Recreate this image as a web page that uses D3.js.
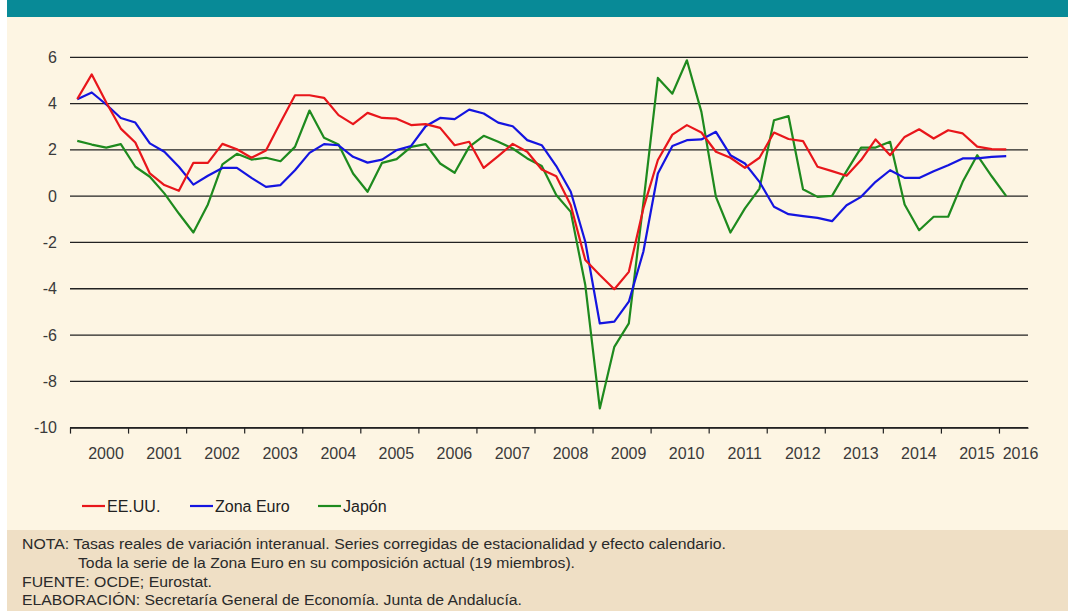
<!DOCTYPE html>
<html><head><meta charset="utf-8">
<script src="https://cdn.jsdelivr.net/npm/d3@7"></script>
<style>
html,body{margin:0;padding:0;background:#fff;}
svg{display:block;}
text{font-family:"Liberation Sans",Arial,sans-serif;}
</style></head><body>
<svg id="chart" width="1068" height="611"></svg>
<script>
// ---------- data ----------
const years = ["2000","2001","2002","2003","2004","2005","2006","2007","2008","2009","2010","2011","2012","2013","2014","2015","2016"];
const quarters = ["T1","T2","T3","T4"];
const eeuu = [
  4.2, 5.26, 4.05, 2.92,
  2.32, 0.98, 0.48, 0.23,
  1.44, 1.44, 2.26, 2.03,
  1.66, 1.97, 3.18, 4.36,
  4.36, 4.25, 3.5, 3.11,
  3.6, 3.38, 3.35, 3.07,
  3.11, 2.95, 2.2, 2.35,
  1.22, 1.73, 2.26, 1.92,
  1.15, 0.86, -0.39, -2.76,
  -3.41, -4.02, -3.27, -0.53,
  1.56, 2.66, 3.07, 2.75,
  1.92, 1.66, 1.22, 1.66,
  2.75, 2.47, 2.38, 1.27,
  1.08, 0.88, 1.56, 2.45,
  1.77, 2.56, 2.89, 2.49,
  2.85, 2.71, 2.14, 2.03,
  2.02
];
const zonaEuro = [
  4.19, 4.48, 3.96, 3.38,
  3.18, 2.28, 1.92, 1.27,
  0.5, 0.88, 1.22, 1.22,
  0.79, 0.4, 0.48, 1.12,
  1.87, 2.25, 2.2, 1.7,
  1.45, 1.58, 1.99, 2.17,
  3.02, 3.38, 3.33, 3.74,
  3.57, 3.18, 3.02, 2.42,
  2.2, 1.3, 0.19, -1.97,
  -5.5, -5.42, -4.56, -2.4,
  0.98, 2.17, 2.42, 2.45,
  2.78, 1.77, 1.41, 0.62,
  -0.46, -0.78, -0.86, -0.94,
  -1.08, -0.39, -0.03, 0.62,
  1.12, 0.79, 0.79, 1.08,
  1.34, 1.63, 1.63, 1.7,
  1.73
];
const japon = [
  2.39, 2.23, 2.1, 2.25,
  1.27, 0.84, 0.12, -0.75,
  -1.57, -0.36, 1.37, 1.83,
  1.58, 1.66, 1.51, 2.13,
  3.7, 2.52, 2.23, 0.98,
  0.19, 1.44, 1.6, 2.13,
  2.25, 1.41, 1.01, 2.13,
  2.61, 2.35, 2.06, 1.63,
  1.3, 0.05, -0.68, -3.84,
  -9.17, -6.51, -5.5, -0.3,
  5.11, 4.43, 5.87, 3.64,
  -0.03, -1.57, -0.53, 0.33,
  3.28, 3.46, 0.3, -0.03,
  0.01, 1.08, 2.1, 2.1,
  2.35, -0.36, -1.47, -0.89,
  -0.89, 0.62, 1.77, 0.86,
  0.0
];
const yTicks = [6, 4, 2, 0, -2, -4, -6, -8, -10];
const seriesNames = ["EE.UU.", "Zona Euro", "Japón"];
const seriesColors = ["#e8161b", "#1414e0", "#1e8a1e"];
const noteLines = [
  "NOTA: Tasas reales de variación interanual. Series corregidas de estacionalidad y efecto calendario.",
  "Toda la serie de la Zona Euro en su composición actual (19 miembros).",
  "FUENTE: OCDE; Eurostat.",
  "ELABORACIÓN: Secretaría General de Economía. Junta de Andalucía."
];

// ---------- layout ----------
const W = 1068, H = 611;
const plot = {left: 70, right: 1028, top: 57.3, bottom: 427.6};
const slots = [];
years.forEach(y => quarters.forEach(q => slots.push(y + q)));
const nSlots = 66; // 2000T1 .. 2016T2

const svg = d3.select("#chart");
svg.append("rect").attr("x", 7).attr("y", 0).attr("width", W - 7).attr("height", H).attr("fill", "#fdf5e3");
svg.append("rect").attr("x", 7).attr("y", 0).attr("width", W - 7).attr("height", 17).attr("fill", "#088a97");
svg.append("rect").attr("x", 7).attr("y", 530).attr("width", W - 7).attr("height", H - 530).attr("fill", "#efdfc5");

const x = d3.scaleLinear().domain([0, nSlots]).range([plot.left, plot.right]);
const y = d3.scaleLinear().domain([-10, 6]).range([plot.bottom, plot.top]);

// gridlines
svg.append("g").selectAll("line").data(yTicks).join("line")
  .attr("x1", plot.left).attr("x2", plot.right)
  .attr("y1", d => y(d)).attr("y2", d => y(d))
  .attr("stroke", "#222").attr("stroke-width", 1.3);

// y labels
svg.append("g").selectAll("text").data(yTicks).join("text")
  .attr("x", 57).attr("y", d => y(d)).attr("dy", "0.35em")
  .attr("text-anchor", "end").attr("font-size", 16).attr("fill", "#3a3a3a")
  .text(d => d);

// x axis
const yearStarts = years.map((yr, k) => k * 4);
const xAxis = d3.axisBottom(x).tickValues(yearStarts).tickSize(6).tickSizeOuter(0).tickFormat("");
const gx = svg.append("g").attr("transform", `translate(0,${plot.bottom})`).call(xAxis);
gx.select(".domain").attr("stroke", "#222").attr("stroke-width", 1.3);
gx.selectAll(".tick line").attr("stroke", "#222").attr("stroke-width", 1.2);

svg.append("g").selectAll("text").data(years).join("text")
  .attr("x", (d, k) => {
    const a = x(k * 4), b = x(Math.min(k * 4 + 4, nSlots));
    return (a + b) / 2 + 7;
  })
  .attr("y", 453).attr("dy", "0.35em").attr("text-anchor", "middle")
  .attr("font-size", 16).attr("fill", "#3a3a3a").text(d => d);

// series lines
const seriesData = [eeuu, zonaEuro, japon];
const line = d3.line().x((d, i) => x(i + 0.5)).y(d => y(d));
[2, 1, 0].forEach(s => {
  svg.append("path").datum(seriesData[s])
    .attr("d", line).attr("fill", "none")
    .attr("stroke", seriesColors[s]).attr("stroke-width", 2.2)
    .attr("stroke-linejoin", "round");
});

// legend
const legendX = [82, 190, 318];
const lg = svg.append("g");
seriesNames.forEach((name, s) => {
  lg.append("line").attr("x1", legendX[s]).attr("x2", legendX[s] + 23)
    .attr("y1", 506).attr("y2", 506).attr("stroke", seriesColors[s]).attr("stroke-width", 2.2);
  lg.append("text").attr("x", legendX[s] + 25).attr("y", 506).attr("dy", "0.35em")
    .attr("font-size", 16).attr("fill", "#222").text(name);
});

// notes
const noteY = [544, 563, 582, 600];
const noteX = [22, 78, 22, 22];
const noteW = [704, 497, 190, 500];
svg.append("g").selectAll("text").data(noteLines).join("text")
  .attr("x", (d, i) => noteX[i]).attr("y", (d, i) => noteY[i]).attr("dy", "0.35em")
  .attr("font-size", 15.5).attr("fill", "#2a2a2a")
  .attr("textLength", (d, i) => noteW[i]).attr("lengthAdjust", "spacingAndGlyphs")
  .text(d => d);
</script>
</body></html>
